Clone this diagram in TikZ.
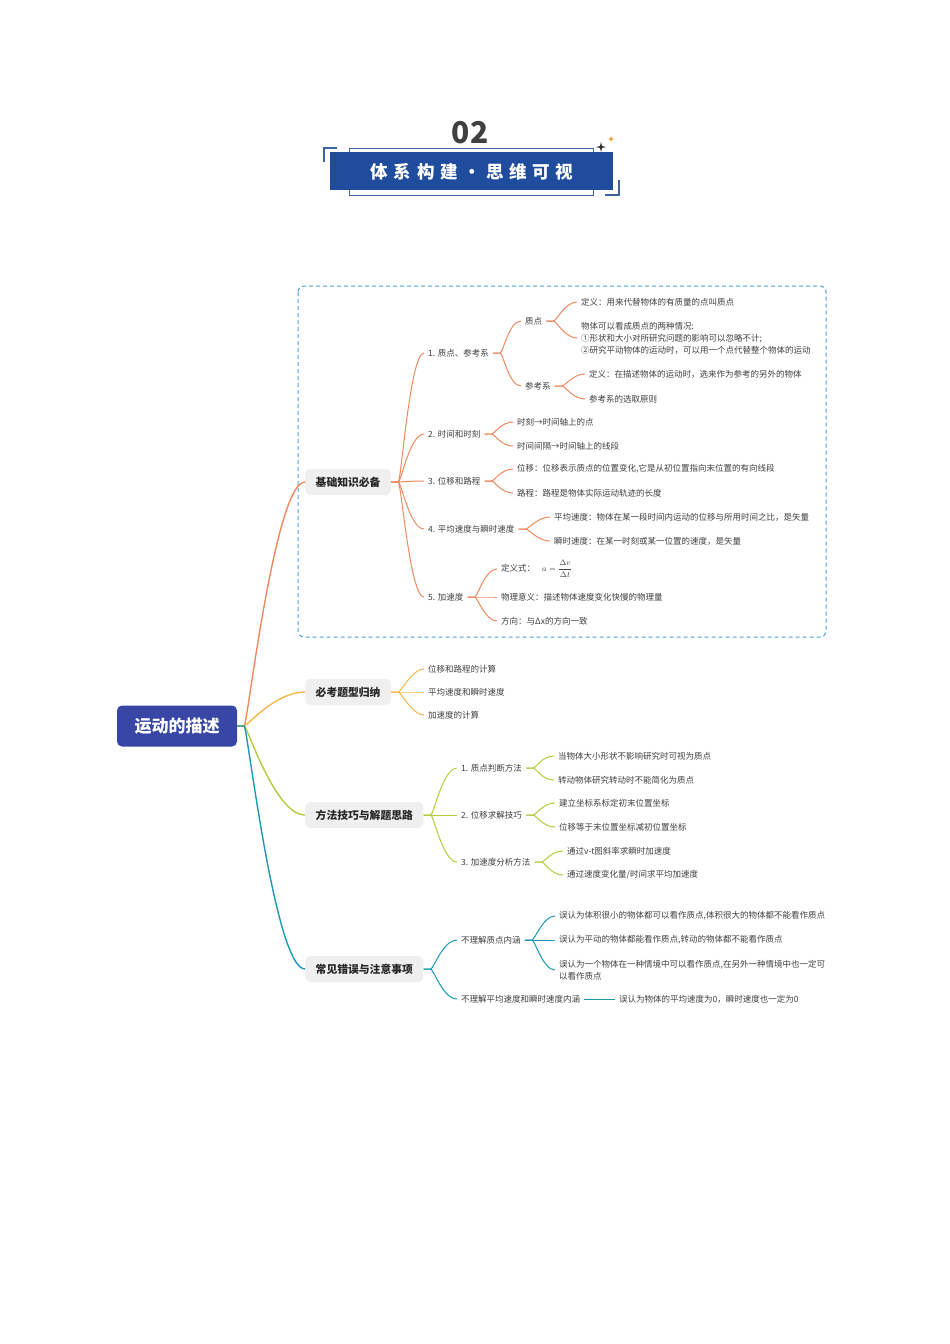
\documentclass[tikz,border=0pt]{standalone}
\usepackage{fontspec}
\setmainfont{Noto Sans CJK SC}
\definecolor{bandblue}{HTML}{1F4C9C}
\definecolor{framblue}{HTML}{3F62A3}
\definecolor{rootblue}{HTML}{3847A6}
\definecolor{boxgray}{HTML}{EFEFEF}
\definecolor{dashblue}{HTML}{4BA3D6}
\definecolor{brorange}{HTML}{EF8A5F}
\definecolor{bryellow}{HTML}{F5B849}
\definecolor{brgreen}{HTML}{B7CB3F}
\definecolor{brteal}{HTML}{1C9AB3}
\definecolor{txtgray}{HTML}{404040}
\definecolor{stargold}{HTML}{E8A33C}

\begin{document}
\begin{tikzpicture}[x=1pt, y=-1pt,
    leaf/.style={anchor=west, inner xsep=4pt, inner ysep=1pt, text=txtgray, align=left, font=\fontsize{8.5}{12}\selectfont},
    topic/.style={anchor=west, fill=boxgray, rounded corners=5pt, minimum height=26pt, inner xsep=10.5pt, text=black!85, font=\fontsize{10.8}{12}\selectfont\bfseries},
    link/.style={line width=1pt, to path={-- ++(7,0) .. controls +(3,0) and +(-#1,0) .. (\tikztotarget)}},
    link/.default=12]
    \fill[white] (0,0) rectangle (950,1344);
    \useasboundingbox (0,0) rectangle (950,1344);

    \node[text=black!75, font=\fontsize{30}{30}\selectfont\bfseries] (num) at (470,133) {02};
    \draw[framblue, line width=1pt] (349,148) rectangle (593,195);
    \fill[bandblue] (330,152) rectangle (613,190);
    \draw[framblue, line width=1.2pt] (324,162) -- (324,148) -- (337,148);
    \draw[framblue, line width=1.2pt] (605,195) -- (619,195) -- (619,180);
    \fill[black!80] (601,142) -- (602,146) -- (606,147) -- (602,148) -- (601,152) -- (600,148) -- (596,147) -- (600,146) -- cycle;
    \fill[stargold] (611,135.5) -- (611.8,138.2) -- (614.5,139) -- (611.8,139.8) -- (611,142.5) -- (610.2,139.8) -- (607.5,139) -- (610.2,138.2) -- cycle;
    \node[text=white, font=\fontsize{17.5}{18}\selectfont\bfseries] (title) at (472,172) {\addfontfeature{LetterSpace=32}体系构建・思维可视};

    \draw[dashblue, dash pattern=on 4pt off 3pt, line width=1pt, rounded corners=6pt] (298,286) rectangle (826,637);

    \node[fill=rootblue, rounded corners=5pt, minimum width=120pt, minimum height=41pt, text=white, font=\fontsize{17}{18}\selectfont\bfseries] (root) at (177,726) {运动的描述};

    \node[topic] (b1) at (305,482) {基础知识必备};
    \node[topic] (b2) at (305,692) {必考题型归纳};
    \node[topic] (b3) at (305,815) {方法技巧与解题思路};
    \node[topic] (b4) at (305,969) {常见错误与注意事项};
    \draw[link=30, brorange, line width=1.4pt] (root.east) to (b1.west);
    \draw[link=30, bryellow, line width=1.4pt] (root.east) to (b2.west);
    \draw[link=30, brgreen, line width=1.4pt] (root.east) to (b3.west);
    \draw[link=30, brteal, line width=1.4pt] (root.east) to (b4.west);

    \foreach \n/\y/\lbl in {k1/353/{1. 质点、参考系}, k2/434/{2. 时间和时刻}, k3/481/{3. 位移和路程}, k4/529/{4. 平均速度与瞬时速度}, k5/597/{5. 加速度}} {
        \node[leaf] (\n) at (424,\y) {\lbl};
        \draw[link=14, brorange] (b1.east) to (\n.west);
    }
    \node[leaf] (k1a) at (521,321) {质点};
    \node[leaf] (k1b) at (521,386) {参考系};
    \draw[link, brorange] (k1.east) to (k1a.west);
    \draw[link, brorange] (k1.east) to (k1b.west);
    \node[leaf] (k1a1) at (577,302) {定义：用来代替物体的有质量的点叫质点};
    \node[leaf] (k1a2) at (577,338) {物体可以看成质点的两种情况:\\①形状和大小对所研究问题的影响可以忽略不计;\\②研究平动物体的运动时，可以用一个点代替整个物体的运动};
    \draw[link, brorange] (k1a.east) to (k1a1.west);
    \draw[link, brorange] (k1a.east) to (k1a2.west);
    \node[leaf] (k1b1) at (585,374) {定义：在描述物体的运动时，选来作为参考的另外的物体};
    \node[leaf] (k1b2) at (585,399) {参考系的选取原则};
    \draw[link, brorange] (k1b.east) to (k1b1.west);
    \draw[link, brorange] (k1b.east) to (k1b2.west);

    \foreach \p/\n/\x/\y/\lbl in {k2/k2a/513/422/{时刻→时间轴上的点}, k2/k2b/513/446/{时间间隔→时间轴上的线段},
        k3/k3a/513/469/{位移：位移表示质点的位置变化,它是从初位置指向末位置的有向线段}, k3/k3b/513/493/{路程：路程是物体实际运动轨迹的长度},
        k4/k4a/550/517/{平均速度：物体在某一段时间内运动的位移与所用时间之比，是矢量}, k4/k4b/550/541/{瞬时速度：在某一时刻或某一位置的速度，是矢量},
        k5/k5a/497/569/{定义式：\hspace{7pt}{\fontsize{8}{9}\selectfont$\displaystyle a=\frac{\Delta v}{\Delta t}$}},
        k5/k5b/497/597/{物理意义：描述物体速度变化快慢的物理量}, k5/k5c/497/621/{方向：与Δx的方向一致}} {
        \node[leaf] (\n) at (\x,\y) {\lbl};
        \draw[link, brorange] (\p.east) to (\n.west);
    }

    \foreach \n/\y/\lbl in {t1/669/{位移和路程的计算}, t2/692/{平均速度和瞬时速度}, t3/715/{加速度的计算}} {
        \node[leaf] (\n) at (424,\y) {\lbl};
        \draw[link, bryellow] (b2.east) to (\n.west);
    }

    \foreach \n/\y/\lbl in {m1/768/{1. 质点判断方法}, m2/815/{2. 位移求解技巧}, m3/862/{3. 加速度分析方法}} {
        \node[leaf] (\n) at (457,\y) {\lbl};
        \draw[link=14, brgreen] (b3.east) to (\n.west);
    }
    \foreach \p/\n/\x/\y/\lbl in {m1/m1a/554/756/{当物体大小形状不影响研究时可视为质点}, m1/m1b/554/780/{转动物体研究转动时不能简化为质点},
        m2/m2a/555/803/{建立坐标系标定初末位置坐标}, m2/m2b/555/827/{位移等于末位置坐标减初位置坐标},
        m3/m3a/563/851/{通过v-t图斜率求瞬时加速度}, m3/m3b/563/875/{通过速度变化量/时间求平均加速度}} {
        \node[leaf] (\n) at (\x,\y) {\lbl};
        \draw[link, brgreen] (\p.east) to (\n.west);
    }

    \node[leaf] (e1) at (457,940) {不理解质点内涵};
    \node[leaf] (e2) at (457,999) {不理解平均速度和瞬时速度内涵};
    \draw[link=14, brteal] (b4.east) to (e1.west);
    \draw[link=14, brteal] (b4.east) to (e2.west);
    \foreach \p/\n/\x/\y/\lbl in {e1/e1a/555/916/{误认为体积很小的物体都可以看作质点,体积很大的物体都不能看作质点},
        e1/e1b/555/940/{误认为平动的物体都能看作质点,转动的物体都不能看作质点},
        e1/e1c/555/970/{误认为一个物体在一种情境中可以看作质点,在另外一种情境中也一定可\\以看作质点},
        e2/e2a/615/999/{误认为物体的平均速度为0，瞬时速度也一定为0}} {
        \node[leaf] (\n) at (\x,\y) {\lbl};
        \draw[link, brteal] (\p.east) to (\n.west);
    }
\end{tikzpicture}
\end{document}
